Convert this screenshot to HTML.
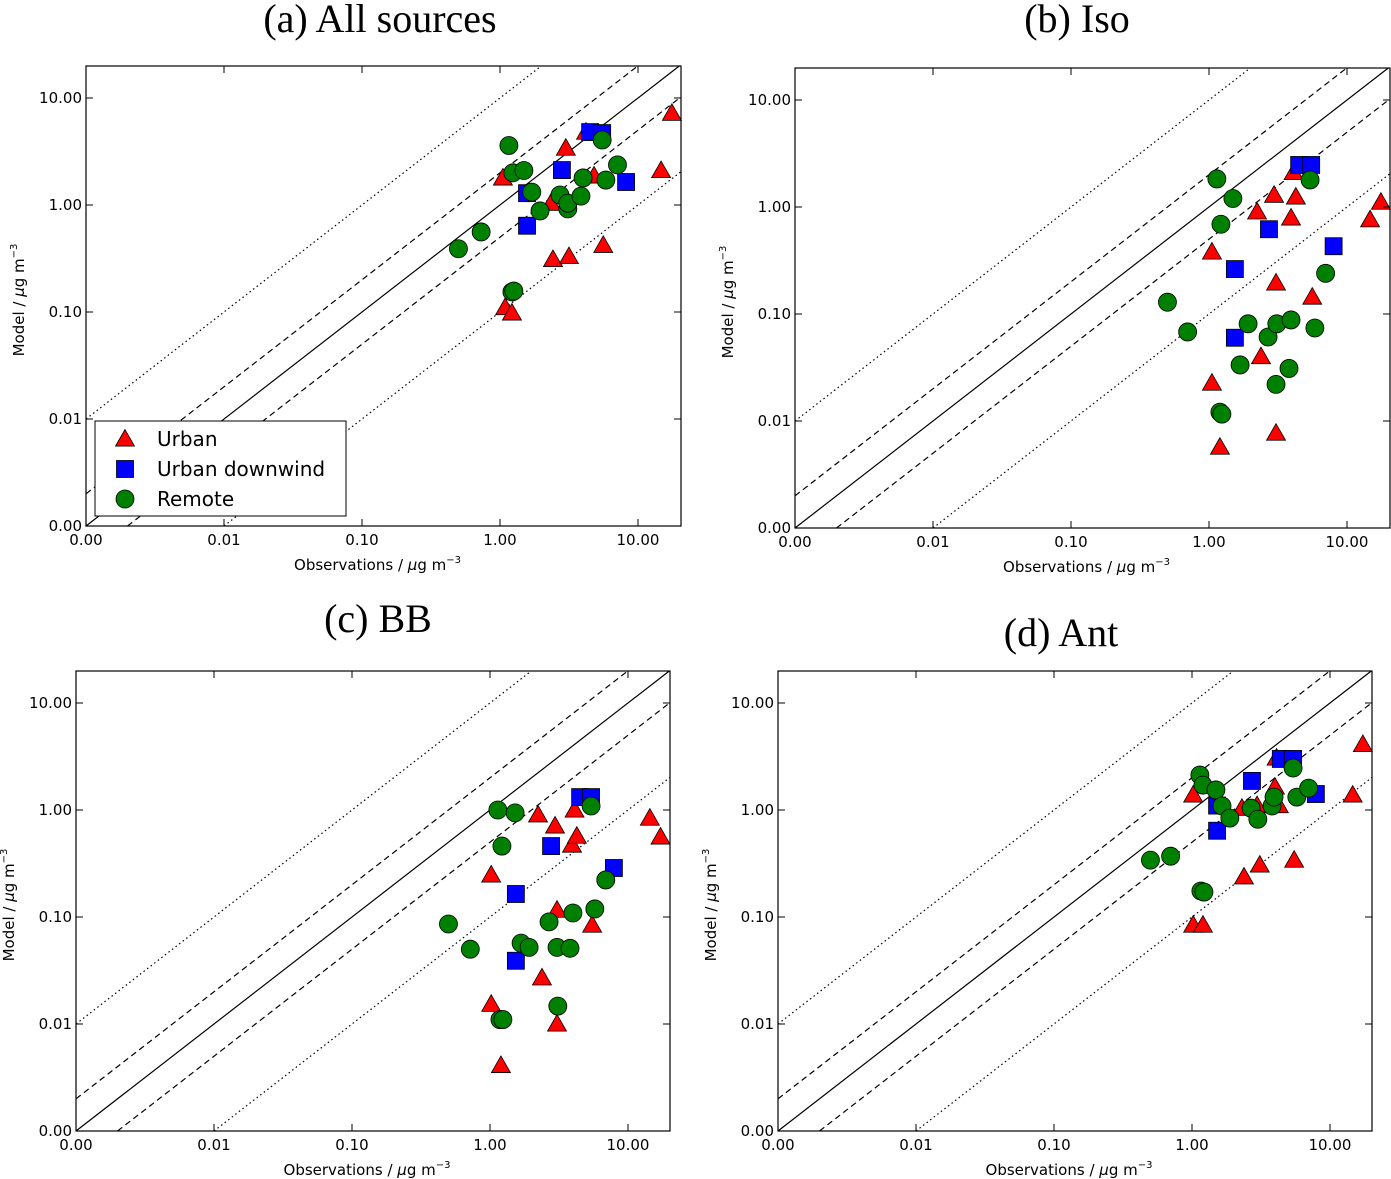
<!DOCTYPE html>
<html><head><meta charset="utf-8"><style>
html,body{margin:0;padding:0;background:#fff;width:1391px;height:1179px;overflow:hidden;}
svg{display:block;}
text{font-family:"DejaVu Sans","Liberation Sans",sans-serif;}
.title{font-family:"Liberation Serif",serif;font-size:40px;}
</style></head><body>
<svg id="fig" width="1391" height="1179" viewBox="0 0 1391 1179" xmlns="http://www.w3.org/2000/svg"></svg>
<script>
const tickValues=[0.001,0.01,0.1,1,10];
const tickLabels=["0.00","0.01","0.10","1.00","10.00"];
const panelTitles=["(a) All sources","(b) Iso","(c) BB","(d) Ant"];
const seriesNames=["Urban","Urban downwind","Remote"];
const urbanA=[[1.05,1.79],[1.09,0.11],[1.22,0.098],[2.34,1.04],[2.42,0.31],[3.0,3.4],[3.16,0.33],[4.2,4.8],[4.8,1.87],[5.6,0.42],[14.7,2.1],[17.6,7.2]];
const downA=[[1.57,1.29],[1.57,0.64],[2.81,2.12],[4.5,4.8],[5.5,4.7],[8.2,1.64]];
const remoteA=[[0.5,0.39],[0.73,0.56],[1.16,3.6],[1.22,0.154],[1.26,0.157],[1.24,2.0],[1.49,2.1],[1.7,1.32],[1.95,0.88],[2.72,1.24],[3.1,0.92],[3.1,1.04],[3.86,1.21],[4.0,1.79],[5.5,4.05],[5.85,1.71],[7.1,2.37]];
const urbanB=[[1.05,0.38],[1.05,0.0226],[1.2,0.0057],[2.23,0.9],[2.38,0.04],[2.96,1.29],[3.06,0.195],[3.06,0.0077],[3.93,0.79],[4.26,1.24],[4.1,2.1],[5.6,0.144],[14.7,0.76],[17.6,1.11]];
const downB=[[1.54,0.263],[1.54,0.06],[2.72,0.62],[4.5,2.47],[5.5,2.47],[8.0,0.43]];
const remoteB=[[0.5,0.129],[0.7,0.068],[1.14,1.83],[1.2,0.0121],[1.24,0.0116],[1.22,0.69],[1.49,1.2],[1.68,0.0334],[1.92,0.081],[2.68,0.061],[3.06,0.022],[3.1,0.081],[3.8,0.031],[3.93,0.088],[5.4,1.79],[5.85,0.074],[7.0,0.24]];
const urbanC=[[1.02,0.247],[1.02,0.0153],[1.2,0.0041],[2.23,0.9],[2.38,0.027],[2.96,0.71],[3.06,0.116],[3.06,0.01],[3.93,0.47],[4.26,0.57],[4.1,1.0],[5.5,0.084],[14.4,0.84],[17.2,0.56]];
const downC=[[1.54,0.164],[1.54,0.039],[2.77,0.46],[4.5,1.32],[5.4,1.32],[7.9,0.287]];
const remoteC=[[0.5,0.086],[0.72,0.05],[1.14,1.0],[1.18,0.011],[1.24,0.011],[1.22,0.46],[1.52,0.94],[1.68,0.057],[1.92,0.052],[2.68,0.09],[3.06,0.052],[3.1,0.0147],[3.8,0.051],[3.99,0.109],[5.4,1.09],[5.75,0.119],[6.9,0.222]];
const urbanD=[[1.02,1.38],[1.02,0.084],[1.2,0.084],[2.3,1.04],[2.38,0.237],[2.96,1.1],[3.1,0.306],[3.99,1.64],[4.26,1.1],[4.1,3.06],[5.5,0.34],[14.6,1.38],[17.3,4.1]];
const downD=[[1.52,1.1],[1.52,0.64],[2.72,1.87],[4.4,3.0],[5.4,3.0],[7.9,1.41]];
const remoteD=[[0.5,0.34],[0.7,0.37],[1.14,2.12],[1.16,0.175],[1.22,0.171],[1.2,1.71],[1.49,1.54],[1.65,1.09],[1.88,0.84],[2.68,1.04],[3.0,0.82],[3.8,1.09],[3.93,1.32],[5.4,2.47],[5.75,1.32],[7.0,1.6]];

const NS="http://www.w3.org/2000/svg";
const svg=document.getElementById('fig');
function mk(tag,attrs,parent){const e=document.createElementNS(NS,tag);for(const k in attrs)e.setAttribute(k,attrs[k]);(parent||svg).appendChild(e);return e;}
const panels=[
 {L:86,R:681,T:66,B:526,tx:380,ty:32,u:urbanA,d:downA,r:remoteA,legend:true},
 {L:795,R:1390,T:68,B:528,tx:1077,ty:32,u:urbanB,d:downB,r:remoteB},
 {L:76,R:670,T:671,B:1131,tx:378,ty:632,u:urbanC,d:downC,r:remoteC},
 {L:778,R:1372,T:671,B:1131,tx:1061,ty:646,u:urbanD,d:downD,r:remoteD}
];
const XPD=138,YPD=107,VMIN=0.001;
function tri(g,x,y,name){const s=9.5;const p=mk('polygon',{points:`${x},${y-s} ${x-s*1.0},${y+s*0.75} ${x+s*1.0},${y+s*0.75}`,fill:'#ff0000',stroke:'#000','stroke-width':0.8},g);

return p;}
function sq(g,x,y,name){const s=8.5;const p=mk('rect',{x:x-s,y:y-s,width:2*s,height:2*s,fill:'#0000ff',stroke:'#000','stroke-width':0.8},g);

return p;}
function circ(g,x,y,name){const p=mk('circle',{cx:x,cy:y,r:9,fill:'#008000',stroke:'#000','stroke-width':0.8},g);

return p;}
panels.forEach((P,i)=>{
 const g=mk('g',{});
 
 
 const sx=v=>P.L+Math.log10(v/VMIN)*XPD;
 const sy=v=>P.B-Math.log10(v/VMIN)*YPD;
 const t=mk('text',{x:P.tx,y:P.ty,'text-anchor':'middle',class:'title'},g);t.textContent=panelTitles[i];
 
 
 const lg=mk('g',{},g);
 const xmax=VMIN*Math.pow(10,(P.R-P.L)/XPD);
 const ymax=VMIN*Math.pow(10,(P.B-P.T)/YPD);
 [[1,'none'],[2,'6,4'],[0.5,'6,4'],[10,'1.5,3'],[0.1,'1.5,3']].forEach(([f,da])=>{
   const x0=Math.max(VMIN,VMIN/f), x1=Math.min(xmax,ymax/f);
   const ln=mk('line',{x1:sx(x0),y1:sy(x0*f),x2:sx(x1),y2:sy(x1*f),stroke:'#000','stroke-width':1.2,'stroke-dasharray':da},lg);
   
   
 });
 P.u.forEach(p=>tri(lg,sx(p[0]),sy(p[1]),'urban-point'));
 P.d.forEach(p=>sq(lg,sx(p[0]),sy(p[1]),'urban-downwind-point'));
 P.r.forEach(p=>circ(lg,sx(p[0]),sy(p[1]),'remote-point'));
 const fr=mk('rect',{x:P.L,y:P.T,width:P.R-P.L,height:P.B-P.T,fill:'none',stroke:'#000','stroke-width':1.2},g);
 
 
 tickValues.forEach((v,k)=>{
   const x=sx(v),y=sy(v);
   mk('line',{x1:x,y1:P.B,x2:x,y2:P.B-7,stroke:'#000'},g);
   mk('line',{x1:x,y1:P.T,x2:x,y2:P.T+7,stroke:'#000'},g);
   mk('line',{x1:P.L,y1:y,x2:P.L+7,y2:y,stroke:'#000'},g);
   mk('line',{x1:P.R,y1:y,x2:P.R-7,y2:y,stroke:'#000'},g);
   const xl=mk('text',{x:x,y:P.B+19,'text-anchor':'middle','font-size':15},g);xl.textContent=tickLabels[k];
   
   
   const yl=mk('text',{x:P.L-4,y:y+5,'text-anchor':'end','font-size':15},g);yl.textContent=tickLabels[k];
   
   
 });
 const xt=mk('text',{x:(P.L+P.R)/2-6,y:P.B+44,'text-anchor':'middle','font-size':15},g);
 xt.innerHTML='Observations / <tspan font-style="italic">μ</tspan>g m<tspan dy="-7" font-size="10">−3</tspan>';
 
 
 const yx=P.L-62,yy=(P.T+P.B)/2+4;
 const yt=mk('text',{x:yx,y:yy,'text-anchor':'middle','font-size':15,transform:`rotate(-90 ${yx} ${yy})`},g);
 yt.innerHTML='Model / <tspan font-style="italic">μ</tspan>g m<tspan dy="-7" font-size="10">−3</tspan>';
 
 
 if(P.legend){
   const lgd=mk('g',{},g);
   
   
   mk('rect',{x:95,y:421,width:251,height:95,fill:'#fff',stroke:'#000','stroke-width':1},lgd);
   const fns=[tri,sq,circ];
   seriesNames.forEach((n,k)=>{
     const yy2=439+k*30;
     fns[k](lgd,125,yy2,'legend-marker');
     const tt=mk('text',{x:157,y:yy2+7,'font-size':20},lgd);tt.textContent=n;
     
     
   });
 }
});
</script>
</body></html>
